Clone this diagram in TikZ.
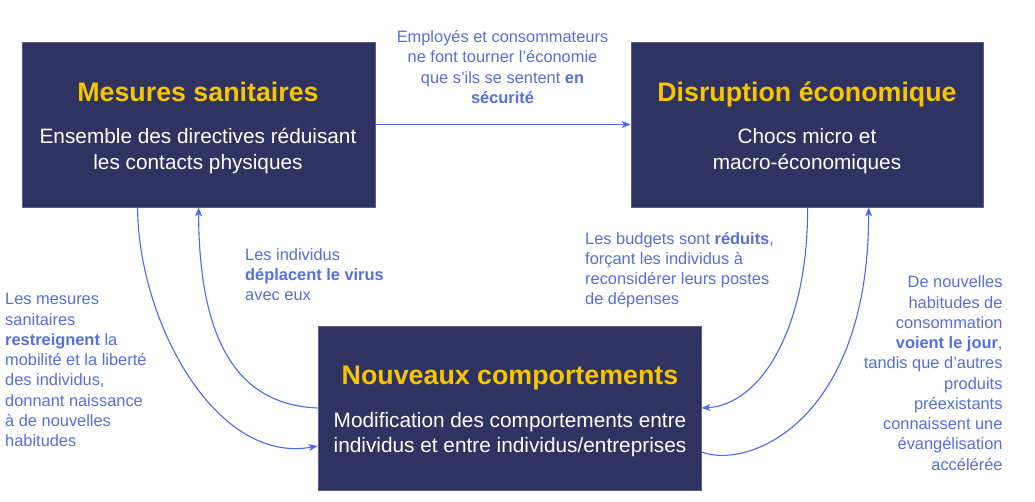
\documentclass[tikz,border=0pt]{standalone}
\usepackage{fontspec}
\setmainfont{Liberation Sans}
\usetikzlibrary{arrows.meta}
\definecolor{boxfill}{HTML}{2F3361}
\definecolor{boxline}{HTML}{5A5E88}
\definecolor{titleyellow}{HTML}{F7C600}
\definecolor{labelblue}{HTML}{5470E2}
\definecolor{arrowblue}{HTML}{4B6BEE}
\tikzset{
  box/.style={draw=boxline, line width=0.8pt, fill=boxfill, inner sep=0pt},
  boxtitle/.style={anchor=base, text=titleyellow, font=\fontsize{26.8}{30}\selectfont\bfseries, inner sep=0pt},
  boxsub/.style={anchor=base, text=white, align=center, inner sep=0pt},
  lab/.style={text=labelblue, inner sep=0pt, font=\fontsize{16.4}{20.25}\selectfont},
  conn/.style={draw=arrowblue, line width=1.1pt, -{Stealth[length=9pt,width=7pt,inset=2.5pt]}}
}
\begin{document}
\begin{tikzpicture}[x=1pt,y=-1pt]
\useasboundingbox (0,0) rectangle (1035,502);
\fill[white] (0,0) rectangle (1035,502);
% boxes
\node[box, minimum width=353pt, minimum height=165pt] (b1) at (198.5,124.5) {};
\node[box, minimum width=352pt, minimum height=165pt] (b2) at (807,124.5) {};
\node[box, minimum width=383pt, minimum height=164pt] (b3) at (509.5,408) {};
% titles
\node[boxtitle] (t1) at (198,101.7) {Mesures sanitaires};
\node[boxtitle] (t2) at (807,101.7) {Disruption économique};
\node[boxtitle] (t3) at (510,384.3) {Nouveaux comportements};
% subtitles (base anchor = last line's baseline)
\node[boxsub, font=\fontsize{20.8}{26}\selectfont] (s1) at (198,170) {Ensemble des directives réduisant\\les contacts physiques};
\node[boxsub, font=\fontsize{20.8}{26}\selectfont] (s2) at (807,170) {Chocs micro et\\macro-économiques};
\node[boxsub, font=\fontsize{20.8}{25}\selectfont] (s3) at (510,452.7) {Modification des comportements entre\\individus et entre individus/entreprises};
% labels
\node[lab, anchor=base, align=center] (l1) at (502.5,103.3) {Employés et consommateurs\\ne font tourner l’économie\\que s’ils se sentent \textbf{en}\\\textbf{sécurité}};
\node[lab, anchor=base west, align=left] (l2) at (245,300.7) {Les individus\\\textbf{déplacent le virus}\\avec eux};
\node[lab, anchor=base west, align=left] (l3) at (5,446.7) {Les mesures\\sanitaires\\\textbf{restreignent} la\\mobilité et la liberté\\des individus,\\donnant naissance\\à de nouvelles\\habitudes};
\node[lab, anchor=base west, align=left] (l4) at (585,305) {Les budgets sont \textbf{réduits},\\forçant les individus à\\reconsidérer leurs postes\\de dépenses};
\node[lab, anchor=base east, align=right] (l5) at (1002.7,470) {De nouvelles\\habitudes de\\consommation\\\textbf{voient le jour},\\tandis que d’autres\\produits\\préexistants\\connaissent une\\évangélisation\\accélérée};
% connectors
\draw[conn] (b1.east) -- (b2.west);
\draw[conn] ([xshift=116pt]b1.south west) .. controls (138,320) and (215,465) .. ([yshift=-38pt]b3.west);
\draw[conn] (b3.west) .. controls (250,405) and (199,360) .. ([xshift=177pt]b1.south west);
\draw[conn] ([xshift=177pt]b2.south west) .. controls (808,330) and (760,405) .. (b3.east);
\draw[conn] ([yshift=-44pt]b3.east) .. controls (750,470) and (869,420) .. ([xshift=238pt]b2.south west);
\end{tikzpicture}
\end{document}
